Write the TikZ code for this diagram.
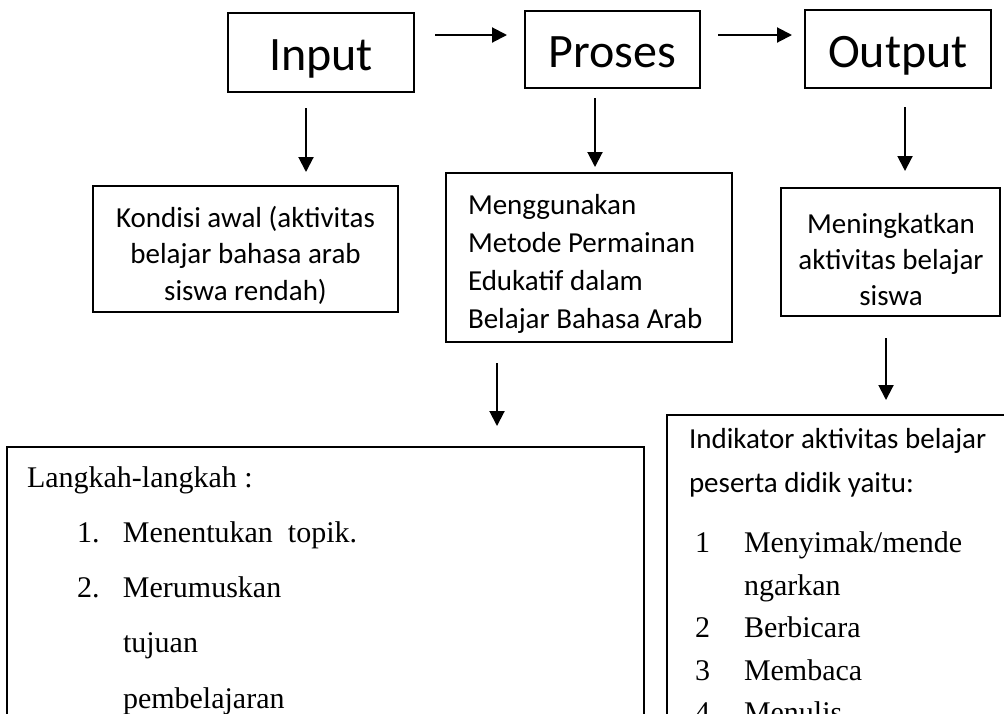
\documentclass[tikz,border=0pt]{standalone}
\usepackage{fontspec}
\setmainfont{Carlito}
\newfontfamily\tnr{Liberation Serif}
\usetikzlibrary{arrows.meta}
\begin{document}
\begin{tikzpicture}[x=0.5pt,y=-0.5pt,
  box/.style={draw, line width=1pt, inner sep=0pt, outer sep=0pt},
  arr/.style={line width=1pt, -{Triangle[length=7.5pt,width=7.5pt]}},
  big/.style={font=\fontsize{24}{28}\selectfont, text height=18pt, text depth=0pt},
  txt/.style={inner sep=0pt, outer sep=0pt}]
\useasboundingbox (0,0) rectangle (1004,713);
\clip (0,0) rectangle (1004,713);

% top row
\node[box, big, minimum width=93pt, minimum height=39.5pt] (in) at (321,52.5) {Input};
\node[box, big, minimum width=87.5pt, minimum height=38.5pt] (pr) at (612.5,49.5) {Proses};
\node[box, big, minimum width=93pt, minimum height=39pt] (out) at (898,49) {Output};

\coordinate (a1s) at (435,35); \coordinate (a1e) at (507,35);
\coordinate (a2s) at (718,35); \coordinate (a2e) at (792,35);
\draw[arr] (a1s) -- (a1e);
\draw[arr] (a2s) -- (a2e);

% second row boxes
\node[box, minimum width=152.5pt, minimum height=63pt] (kon) at (245.5,249) {};
\node[box, minimum width=143pt, minimum height=84.5pt] (men) at (589,257.5) {};
\node[box, minimum width=109.5pt, minimum height=64pt] (mng) at (890.5,252) {};

\node[txt, anchor=north, align=center, font=\fontsize{14.5}{18.25}\selectfont] (kontxt) at (245.5,201.5)
  {\strut Kondisi awal (aktivitas\\ belajar bahasa arab\\ siswa rendah)};
\node[txt, anchor=north west, align=left, font=\fontsize{14.5}{18.85}\selectfont] (mentxt) at (468,188.6)
  {\strut Menggunakan\\ Metode Permainan\\ Edukatif dalam\\ Belajar Bahasa Arab};
\node[txt, anchor=north, align=center, font=\fontsize{14.5}{18}\selectfont] (mngtxt) at (891,207.8)
  {\strut Meningkatkan\\ aktivitas belajar\\ siswa};

\coordinate (d1s) at (306,108); \coordinate (d1e) at (306,172);
\coordinate (d2s) at (595,98);  \coordinate (d2e) at (595,167);
\coordinate (d3s) at (905,107); \coordinate (d3e) at (905,171);
\draw[arr] (d1s) -- (d1e);
\draw[arr] (d2s) -- (d2e);
\draw[arr] (d3s) -- (d3e);

% third row boxes
\node[box, minimum width=318.5pt, minimum height=176.5pt] (lang) at (325.5,623.5) {};
\node[box, minimum width=181.5pt, minimum height=192.5pt] (ind) at (848.5,607.5) {};

\coordinate (d4s) at (497,363); \coordinate (d4e) at (497,426);
\coordinate (d5s) at (886,338); \coordinate (d5e) at (886,400);
\draw[arr] (d4s) -- (d4e);
\draw[arr] (d5s) -- (d5e);

\node[txt, anchor=north west, align=left, font=\tnr\fontsize{15}{27.65}\selectfont] (langtxt) at (27,448.3)
  {\strut Langkah-langkah :\\
   \hspace*{25pt}\makebox[23pt][l]{1.}Menentukan\ \ topik.\\
   \hspace*{25pt}\makebox[23pt][l]{2.}Merumuskan\\
   \hspace*{25pt}\makebox[23pt][l]{}tujuan\\
   \hspace*{25pt}\makebox[23pt][l]{}pembelajaran};

\node[txt, anchor=north west, align=left, font=\fontsize{14.5}{22}\selectfont] (indtxt) at (689,417.2)
  {\strut Indikator aktivitas belajar\\ peserta didik yaitu:};
\node[txt, anchor=north west, align=left, font=\tnr\fontsize{15}{21.2}\selectfont] (indlist) at (695,523.3)
  {\strut\makebox[24.5pt][l]{1}Menyimak/mende\\
   \makebox[24.5pt][l]{}ngarkan\\
   \makebox[24.5pt][l]{2}Berbicara\\
   \makebox[24.5pt][l]{3}Membaca\\
   \makebox[24.5pt][l]{4}Menulis};
\end{tikzpicture}
\end{document}
